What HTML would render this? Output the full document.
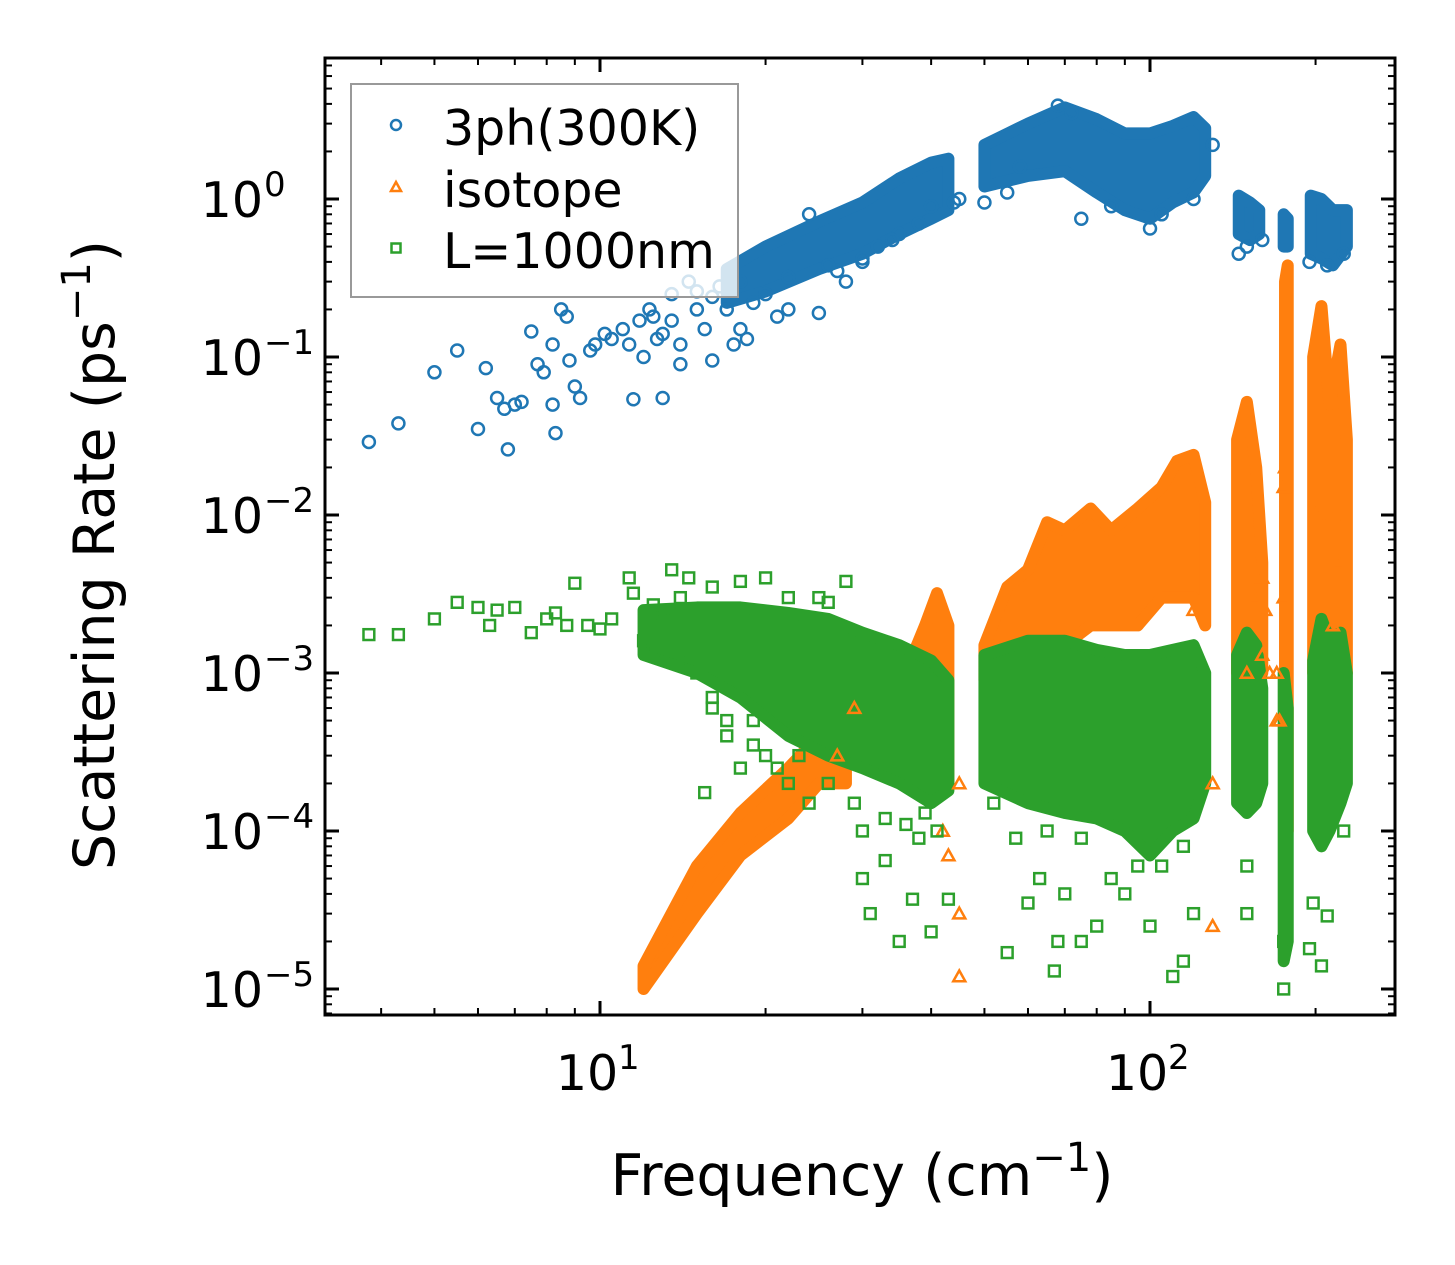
<!DOCTYPE html>
<html><head><meta charset="utf-8"><style>
html,body{margin:0;padding:0;background:#fff}
svg{display:block}
text{font-family:"DejaVu Sans","Liberation Sans",sans-serif;fill:#000}
</style></head><body>
<svg id="chart" width="1455" height="1265" viewBox="0 0 1455 1265" xmlns="http://www.w3.org/2000/svg">
<g id="bands"></g>
<g id="points"></g>
<g id="axes"></g>
<g id="legend"></g>
</svg>
<script>
// ---- data: [frequency cm^-1, rate ps^-1] ----
const blueBands = [
  [[17,0.22,0.36],[20,0.26,0.5],[25,0.36,0.72],[30,0.45,0.95],[35,0.6,1.35],[40,0.75,1.7],[43,0.85,1.8]],
  [[50,1.2,2.2],[60,1.4,3.0],[70,1.5,3.8],[80,1.1,3.2],[90,0.85,2.6],[100,0.75,2.6],[110,0.95,2.9],[120,1.1,3.3],[126,1.4,2.8]],
  [[145,0.6,1.05],[152,0.55,0.95],[158,0.6,0.85]],
  [[175,0.5,0.8],[178,0.5,0.75]],
  [[196,0.45,1.05],[205,0.42,1.0],[215,0.38,0.85],[228,0.5,0.85]]
];
const orangeBands = [
  [[12,1.0e-5,1.4e-5],[15,3e-5,6e-5],[18,7e-5,1.3e-4],[22,1.2e-4,2.5e-4],[25,2e-4,4e-4],[28,2e-4,5e-4]],
  [[35,2.5e-4,8e-4],[39,3e-4,2e-3],[41,3e-4,3.2e-3],[43,2e-4,2e-3]],
  [[50,9e-4,1.5e-3],[55,1e-3,3.5e-3],[60,1.2e-3,4.5e-3],[65,1.5e-3,9e-3],[70,1.5e-3,8e-3],[78,2e-3,1.1e-2],[85,2e-3,8e-3],[95,2e-3,1.1e-2],[105,3e-3,1.5e-2],[112,3e-3,2.2e-2],[120,3e-3,2.4e-2],[126,2e-3,1.2e-2]],
  [[144,1e-3,3e-2],[150,1e-3,5.2e-2],[156,1e-3,2e-2],[160,1e-3,5e-3]],
  [[176,1e-4,0.3],[178,1e-4,0.38]],
  [[198,1e-3,0.1],[205,1e-3,0.21],[212,1e-3,0.05],[222,1e-3,0.12],[228,1e-3,0.03]]
];
const greenBands = [
  [[12,1.3e-3,2.5e-3],[15,1e-3,2.6e-3],[18,7e-4,2.6e-3],[22,4e-4,2.4e-3],[26,3e-4,2.2e-3],[30,2.5e-4,1.8e-3],[35,2e-4,1.5e-3],[40,1.5e-4,1.2e-3],[43,1.8e-4,9e-4]],
  [[50,2e-4,1.3e-3],[60,1.5e-4,1.6e-3],[70,1.3e-4,1.6e-3],[80,1.2e-4,1.4e-3],[90,1e-4,1.3e-3],[100,7e-5,1.3e-3],[110,1e-4,1.4e-3],[120,1.2e-4,1.5e-3],[126,2e-4,1e-3]],
  [[144,1.5e-4,1.3e-3],[150,1.3e-4,1.8e-3],[156,1.5e-4,1.5e-3],[160,2e-4,8e-4]],
  [[175,1.5e-5,1e-3],[178,2e-5,6e-4]],
  [[198,1e-4,1.2e-3],[205,8e-5,2.2e-3],[212,1e-4,1.6e-3],[222,1.5e-4,1.8e-3],[228,2e-4,1e-3]]
];
const bluePts = [[3.8,0.029],[4.3,0.038],[5,0.08],[5.5,0.11],[6,0.035],[6.2,0.085],[6.5,0.055],[6.7,0.047],[6.8,0.026],[7,0.05],[7.2,0.052],[7.5,0.145],[7.7,0.09],[7.9,0.08],[8.2,0.12],[8.2,0.05],[8.3,0.033],[8.5,0.2],[8.7,0.18],[8.8,0.095],[9,0.065],[9.2,0.055],[9.6,0.11],[9.8,0.12],[10.2,0.14],[10.5,0.13],[11,0.15],[11.3,0.12],[11.5,0.054],[11.8,0.17],[12,0.1],[12.3,0.2],[12.5,0.18],[13,0.055],[13,0.14],[13.5,0.25],[14,0.12],[14.5,0.3],[14,0.09],[15,0.2],[15.5,0.15],[16,0.095],[16.5,0.28],[17,0.2],[17.5,0.12],[18,0.15],[18.5,0.13],[19,0.22],[20,0.25],[21,0.18],[22,0.2],[24,0.8],[25,0.19],[27,0.35],[28,0.3],[30,0.4],[32,0.5],[35,0.6],[40,0.9],[45,1.0],[50,0.95],[55,1.1],[75,0.75],[100,0.65],[130,2.2],[145,0.45],[160,0.55],[195,0.4],[68,3.9],[72,3.5],[15,0.26],[16,0.24],[13.5,0.17],[12.7,0.13],[18,0.3],[22,0.32],[26,0.38],[30,0.42],[34,0.55],[38,0.7],[44,0.95],[58,1.6],[85,0.9],[105,0.8],[120,1.0],[150,0.5],[210,0.38],[225,0.45]];
const orangePts = [[45,3e-5],[45,1.2e-5],[120,2.5e-3],[130,2e-4],[130,2.5e-5],[170,5e-4],[170,1e-3],[172,5e-4],[175,3e-3],[176,2e-2],[175,1.5e-2],[200,1e-2],[215,2e-3],[215,1e-2],[220,5e-3],[150,1e-3],[155,3e-3],[160,1.3e-3],[165,1e-3],[42,1e-4],[43,7e-5],[160,4e-3],[162,2.5e-3],[27,3e-4],[29,6e-4],[45,2e-4]];
const greenPts = [[3.8,1.75e-3],[4.3,1.75e-3],[5,2.2e-3],[5.5,2.8e-3],[6,2.6e-3],[6.3,2e-3],[6.5,2.5e-3],[7,2.6e-3],[7.5,1.8e-3],[8,2.2e-3],[8.3,2.4e-3],[8.7,2e-3],[9,3.7e-3],[9.5,2e-3],[10,1.9e-3],[10.5,2.2e-3],[11.3,4e-3],[11.5,3.2e-3],[12,1.6e-3],[12.5,1.4e-3],[13,2.4e-3],[13.5,4.5e-3],[14,1.2e-3],[14.5,4e-3],[15,1e-3],[15.5,1.75e-4],[16,7e-4],[17,5e-4],[18,2.5e-4],[19,3.5e-4],[20,4e-3],[22,2e-4],[24,1.5e-4],[25,3e-3],[28,3.8e-3],[30,1e-4],[30,5e-5],[31,3e-5],[33,6.5e-5],[35,2e-5],[37,3.7e-5],[38,9e-5],[40,2.3e-5],[41,1e-4],[43,3.7e-5],[55,1.7e-5],[57,9e-5],[60,3.5e-5],[63,5e-5],[67,1.3e-5],[68,2e-5],[70,4e-5],[75,2e-5],[80,2.5e-5],[85,5e-5],[90,4e-5],[100,2.5e-5],[105,6e-5],[110,1.2e-5],[115,1.5e-5],[120,3e-5],[150,3e-5],[150,6e-5],[175,1e-5],[175,2e-5],[195,1.8e-5],[198,3.5e-5],[205,1.4e-5],[210,2.9e-5],[225,1e-4],[220,3e-4],[16,6e-4],[17,4e-4],[19,5e-4],[20,3e-4],[21,2.5e-4],[23,3e-4],[26,2e-4],[29,1.5e-4],[33,1.2e-4],[36,1.1e-4],[39,1.3e-4],[52,1.5e-4],[65,1e-4],[75,9e-5],[95,6e-5],[115,8e-5],[12.5,2.7e-3],[14,3e-3],[16,3.5e-3],[18,3.8e-3],[22,3e-3],[26,2.8e-3]];
const xTickVals = [10,100];
const xTickLabels = ["1","2"];
const yTickVals = [1,0.1,0.01,1e-3,1e-4,1e-5];
const yTickLabels = ["0","\u22121","\u22122","\u22123","\u22124","\u22125"];

const NS="http://www.w3.org/2000/svg";
const L=325,R=1395,T=58,B=1015;
const x=f=>600+550*Math.log10(f/10);
const y=v=>199-158*Math.log10(v);
const C={b:"#1f77b4",o:"#ff7f0e",g:"#2ca02c"};
function mk(tag,attrs,parent){const e=document.createElementNS(NS,tag);for(const k in attrs)e.setAttribute(k,attrs[k]);parent.appendChild(e);return e;}
const gb=document.getElementById('bands'),gp=document.getElementById('points'),ga=document.getElementById('axes'),gl=document.getElementById('legend');
function marker(kind,px,py,parent,s){
  s=s||6;let e;
  if(kind==='b')e=mk('circle',{cx:px,cy:py,r:s,fill:'none',stroke:C.b,'stroke-width':2.5},parent);
  else if(kind==='o')e=mk('polygon',{points:`${px},${py-s} ${px+s},${py+s*0.8} ${px-s},${py+s*0.8}`,fill:'none',stroke:C.o,'stroke-width':2.5},parent);
  else e=mk('rect',{x:px-s*0.9,y:py-s*0.9,width:s*1.8,height:s*1.8,fill:'none',stroke:C.g,'stroke-width':2.5},parent);
  return e;
}
function drawBands(list,kind){
  list.forEach(band=>{
    const up=band.map(d=>`${x(d[0])},${y(d[2])}`),lo=band.slice().reverse().map(d=>`${x(d[0])},${y(d[1])}`);
    const p=mk('polygon',{points:up.concat(lo).join(' '),fill:C[kind],stroke:C[kind],'stroke-width':12,'stroke-linejoin':'round'},gb);
    
    
  });
}
function drawPts(list,kind){
  list.forEach(d=>{
    const e=marker(kind,x(d[0]),y(d[1]),gp);
    
    
  });
}
drawBands(blueBands,'b');drawPts(bluePts,'b');
drawBands(orangeBands,'o');drawPts(orangePts,'o');
drawBands(greenBands,'g');drawPts(greenPts,'g');

const fr=mk('rect',{x:L,y:T,width:R-L,height:B-T,fill:'none',stroke:'#000','stroke-width':3},ga);


for(let d=0;d<3;d++)for(let m=1;m<10;m++){
  const f=m*Math.pow(10,d);const px=x(f);if(px<L||px>R)continue;
  const len=m===1?14:7;
  mk('line',{x1:px,y1:B,x2:px,y2:B-len,stroke:'#000','stroke-width':m===1?3:2},ga);
  mk('line',{x1:px,y1:T,x2:px,y2:T+len,stroke:'#000','stroke-width':m===1?3:2},ga);
}
for(let d=-6;d<1;d++)for(let m=1;m<10;m++){
  const v=m*Math.pow(10,d);const py=y(v);if(py<T||py>B)continue;
  const len=m===1?14:7;
  mk('line',{x1:L,y1:py,x2:L+len,y2:py,stroke:'#000','stroke-width':m===1?3:2},ga);
  mk('line',{x1:R,y1:py,x2:R-len,y2:py,stroke:'#000','stroke-width':m===1?3:2},ga);
}
xTickVals.forEach((v,i)=>{
  const t=mk('text',{x:x(v)-13,y:1090,'font-size':49,'text-anchor':'middle'},ga);
  
  
  t.textContent='10';
  const s=mk('text',{x:x(v)+18,y:1069,'font-size':34},ga);
  
  
  s.textContent=xTickLabels[i];
});
yTickVals.forEach((v,i)=>{
  const t=mk('text',{x:263,y:y(v)+18,'font-size':49,'text-anchor':'end'},ga);
  
  
  t.textContent='10';
  const s=mk('text',{x:264,y:y(v)-3,'font-size':34,'text-anchor':'start'},ga);
  
  
  s.textContent=yTickLabels[i];
});
const xt=mk('text',{x:862,y:1195,'font-size':57,'text-anchor':'middle'},ga);


xt.innerHTML='Frequency (cm<tspan dy="-24" font-size="40">\u22121</tspan><tspan dy="24">)</tspan>';
const yt=mk('text',{x:0,y:0,'font-size':57,'text-anchor':'middle',transform:'translate(114,555) rotate(-90)'},ga);


yt.innerHTML='Scattering Rate (ps<tspan dy="-24" font-size="40">\u22121</tspan><tspan dy="24">)</tspan>';

const lb=mk('rect',{x:351,y:84,width:387,height:213,fill:'#fff','fill-opacity':0.8,stroke:'#999','stroke-width':2},gl);


[['b','3ph(300K)',128],['o','isotope',190],['g','L=1000nm',251]].forEach(e=>{
  const m=marker(e[0],396,e[2]-3,gl,5);
  
  
  const t=mk('text',{x:443,y:e[2]+17,'font-size':49},gl);
  
  
  t.textContent=e[1];
});
</script>
</body></html>
